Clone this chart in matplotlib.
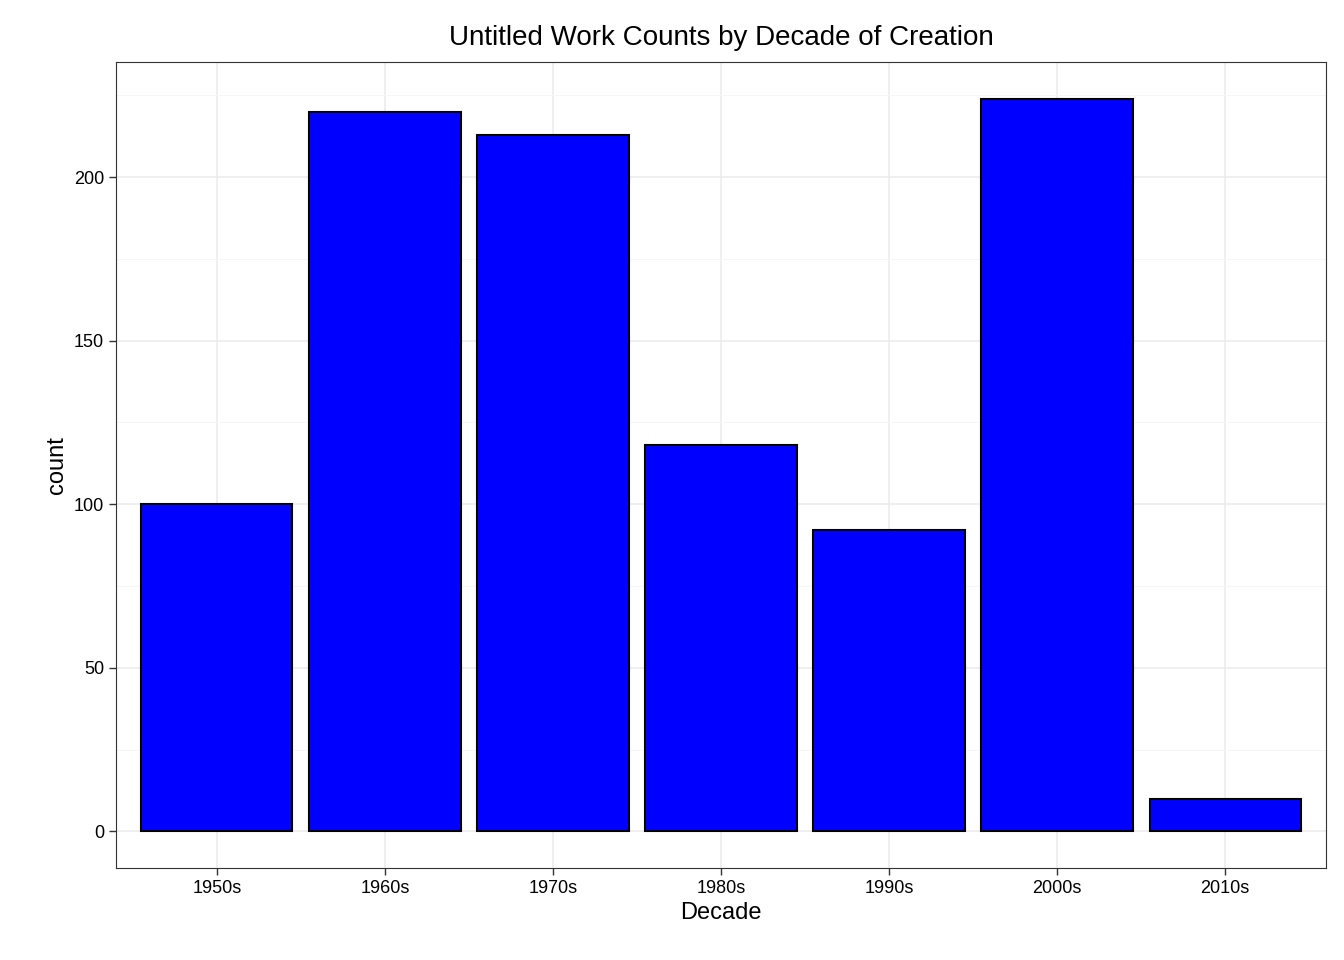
import matplotlib
matplotlib.use("Agg")
import matplotlib.pyplot as plt

decades = ["1950s", "1960s", "1970s", "1980s", "1990s", "2000s", "2010s"]
counts = [100, 220, 213, 118, 92, 224, 10]

plt.rcParams['font.family'] = ['Liberation Sans', 'DejaVu Sans']
fig = plt.figure(figsize=(13.44, 9.6), dpi=100)
ax = fig.add_axes([116/1344, 1-868/960, (1326-116)/1344, (868-62)/960])
x = list(range(1, len(decades)+1))
ax.bar(x, counts, width=0.9, color="#0000FF", edgecolor="black", linewidth=1.5, zorder=3)
ax.set_xlim(0.4, 7.6)
ymax = max(counts)
ax.set_ylim(-0.05*ymax, 1.05*ymax)
ax.set_xticks(x)
ax.set_xticklabels(decades)
ax.set_yticks([0, 50, 100, 150, 200])
ax.set_yticks([25, 75, 125, 175, 225], minor=True)
ax.grid(True, which='major', color="#EBEBEB", linewidth=1.1, zorder=0)
ax.grid(True, which='minor', axis='y', color="#F5F5F5", linewidth=0.6, zorder=0)
ax.tick_params(which='minor', length=0)
ax.tick_params(which='major', length=5, width=1, color="#333333", labelsize=13, labelcolor="black")
for s in ax.spines.values():
    s.set_color("#333333")
    s.set_linewidth(0.8)
ax.set_xlabel("Decade", fontsize=17)
ax.set_ylabel("count", fontsize=17)
ax.set_title("Untitled Work Counts by Decade of Creation", fontsize=20, pad=12)
fig.savefig("out.png", dpi=100)
